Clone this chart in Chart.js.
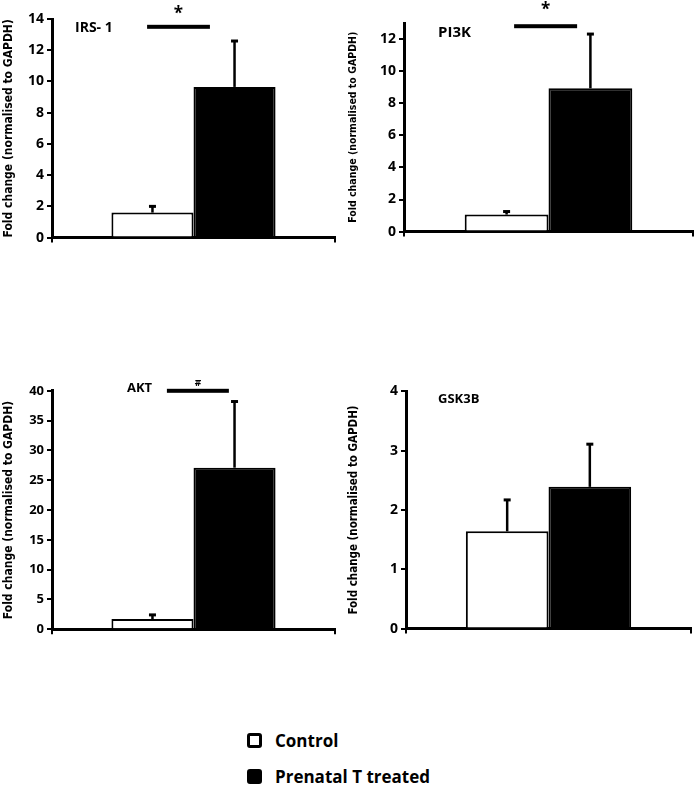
<!DOCTYPE html>
<html>
<head>
<meta charset="utf-8">
<script src="https://cdn.jsdelivr.net/npm/chart.js@4.4.1/dist/chart.umd.min.js"></script>
<style>
  body { margin: 0; background: #fff; }
  .panel { position: absolute; }
  .legend { position: absolute; left: 247px; top: 722px; font-family: "Open Sans", sans-serif; font-weight: 700; font-size: 17px; color: #000; }
  .legend div { display: flex; align-items: center; height: 36px; }
  .legend span.box { width: 9px; height: 9px; border: 3px solid #000; border-radius: 3px; margin-right: 13px; }
</style>
</head>
<body>
<div class="panel" id="p0" style="left:0px;top:0px;width:345px;height:249px"><canvas id="c0"></canvas></div>
<div class="panel" id="p1" style="left:345px;top:0px;width:352px;height:243px"><canvas id="c1"></canvas></div>
<div class="panel" id="p2" style="left:0px;top:380px;width:345px;height:260px"><canvas id="c2"></canvas></div>
<div class="panel" id="p3" style="left:345px;top:380px;width:352px;height:260px"><canvas id="c3"></canvas></div>
<div class="legend">
  <div><span class="box" style="background:#fff"></span>Control</div>
  <div><span class="box" style="background:#000"></span>Prenatal T treated</div>
</div>
<script>
const genes = ['IRS- 1', 'PI3K', 'AKT', 'GSK3B'];
const groups = ['Control', 'Prenatal T treated'];
const controlMean = [1.6, 1.06, 1.7, 1.64];
const controlErr = [0.4, 0.19, 0.7, 0.53];
const treatedMean = [9.65, 8.93, 27.1, 2.39];
const treatedErr = [2.94, 3.38, 11.1, 0.72];
const sigMarks = ['*', '*', '#', ''];
const sigLevel = [13.5, 12.8, 40, null];
const yMax = [14, 13, 40, 4];
const yStep = [2, 2, 5, 1];

// where each panel sits (pixels)
const layouts = [
    { axisW: 52, padTop: 19, padRight: 10, padBottom: 2, titleSize: 12, tickFont: 14,
      label: { dx: 23, dy: 9, size: 14 }, sig: { from: 0.336, to: 0.558, markUp: 13, size: 17 } },
    { axisW: 59, padTop: 23, padRight: 4, padBottom: 3, titleSize: 10.5, tickFont: 14,
      label: { dx: 34, dy: 10, size: 15 }, sig: { from: 0.381, to: 0.599, markUp: 16, size: 17 } },
    { axisW: 52, padTop: 10, padRight: 10, padBottom: 1, titleSize: 12, tickFont: 13,
      label: { dx: 75, dy: -3, size: 13 }, sig: { from: 0.406, to: 0.625, markUp: 8, size: 10 } },
    { axisW: 61, padTop: 6, padRight: 6, padBottom: 1, titleSize: 11.5, tickFont: 14,
      label: { dx: 32, dy: 8, size: 13 }, sig: null }
];

const errorBars = {
    id: 'errorBars',
    afterDatasetsDraw(chart) {
        const ctx = chart.ctx;
        const y = chart.scales.y;
        ctx.save();
        ctx.strokeStyle = '#000';
        chart.data.datasets.forEach((ds, i) => {
            chart.getDatasetMeta(i).data.forEach((bar, j) => {
                const top = y.getPixelForValue(ds.data[j] + ds.err[j]);
                ctx.lineWidth = 2.5;
                ctx.beginPath();
                ctx.moveTo(bar.x, y.getPixelForValue(ds.data[j]));
                ctx.lineTo(bar.x, top);
                ctx.stroke();
                ctx.lineWidth = 3;
                ctx.beginPath();
                ctx.moveTo(bar.x - 3.5, top);
                ctx.lineTo(bar.x + 3.5, top);
                ctx.stroke();
            });
        });
        ctx.restore();
    }
};

const panelNotes = {
    id: 'panelNotes',
    afterDraw(chart, args, opts) {
        const ctx = chart.ctx;
        const a = chart.chartArea;
        ctx.save();
        ctx.fillStyle = '#000';
        ctx.textBaseline = 'middle';
        ctx.font = 'bold ' + opts.label.size + 'px "Open Sans", sans-serif';
        ctx.textAlign = 'left';
        ctx.fillText(opts.text, a.left + opts.label.dx, a.top + opts.label.dy);
        if (opts.sig && opts.level != null) {
            const w = a.right - a.left;
            const x1 = a.left + w * opts.sig.from;
            const x2 = a.left + w * opts.sig.to;
            const yy = chart.scales.y.getPixelForValue(opts.level);
            ctx.fillRect(x1, yy - 2, x2 - x1, 4);
            ctx.textAlign = 'center';
            ctx.font = 'bold ' + opts.sig.size + 'px "Open Sans", sans-serif';
            ctx.fillText(opts.mark, (x1 + x2) / 2, yy - opts.sig.markUp);
        }
        ctx.restore();
    }
};

genes.forEach((gene, i) => {
    const L = layouts[i];
    new Chart(document.getElementById('c' + i), {
        type: 'bar',
        data: {
            labels: [gene],
            datasets: [{
                label: groups[0],
                data: [controlMean[i]],
                err: [controlErr[i]],
                backgroundColor: '#fff',
                borderColor: '#000',
                borderWidth: 2
            }, {
                label: groups[1],
                data: [treatedMean[i]],
                err: [treatedErr[i]],
                backgroundColor: '#000',
                borderColor: '#000',
                borderWidth: 2
            }]
        },
        options: {
            responsive: true,
            maintainAspectRatio: false,
            animation: false,
            categoryPercentage: 0.58,
            barPercentage: 1,
            layout: { padding: { top: L.padTop, right: L.padRight, bottom: L.padBottom, left: 0 } },
            scales: {
                x: {
                    ticks: { display: false },
                    grid: { drawOnChartArea: false, tickLength: 5, color: '#000', lineWidth: 2 },
                    border: { color: '#000', width: 3 },
                    afterFit(s) { s.height = 6; }
                },
                y: {
                    min: 0,
                    max: yMax[i],
                    ticks: {
                        stepSize: yStep[i],
                        includeBounds: false,
                        color: '#000',
                        padding: 3,
                        font: { family: '"Open Sans", sans-serif', weight: 'bold', size: L.tickFont }
                    },
                    grid: { drawOnChartArea: false, tickLength: 5, color: '#000', lineWidth: 2 },
                    border: { color: '#000', width: 3 },
                    title: {
                        display: true,
                        text: 'Fold change (normalised to GAPDH)',
                        color: '#000',
                        padding: { top: 2, bottom: 0 },
                        font: { family: '"Liberation Sans Narrow", "DejaVu Sans Condensed", sans-serif', weight: 'bold', size: L.titleSize }
                    },
                    afterFit(s) { s.width = L.axisW; }
                }
            },
            plugins: {
                legend: { display: false },
                tooltip: { enabled: false },
                panelNotes: { text: gene, label: L.label, sig: L.sig, level: sigLevel[i], mark: sigMarks[i] }
            }
        },
        plugins: [errorBars, panelNotes]
    });
});
</script>
</body>
</html>
